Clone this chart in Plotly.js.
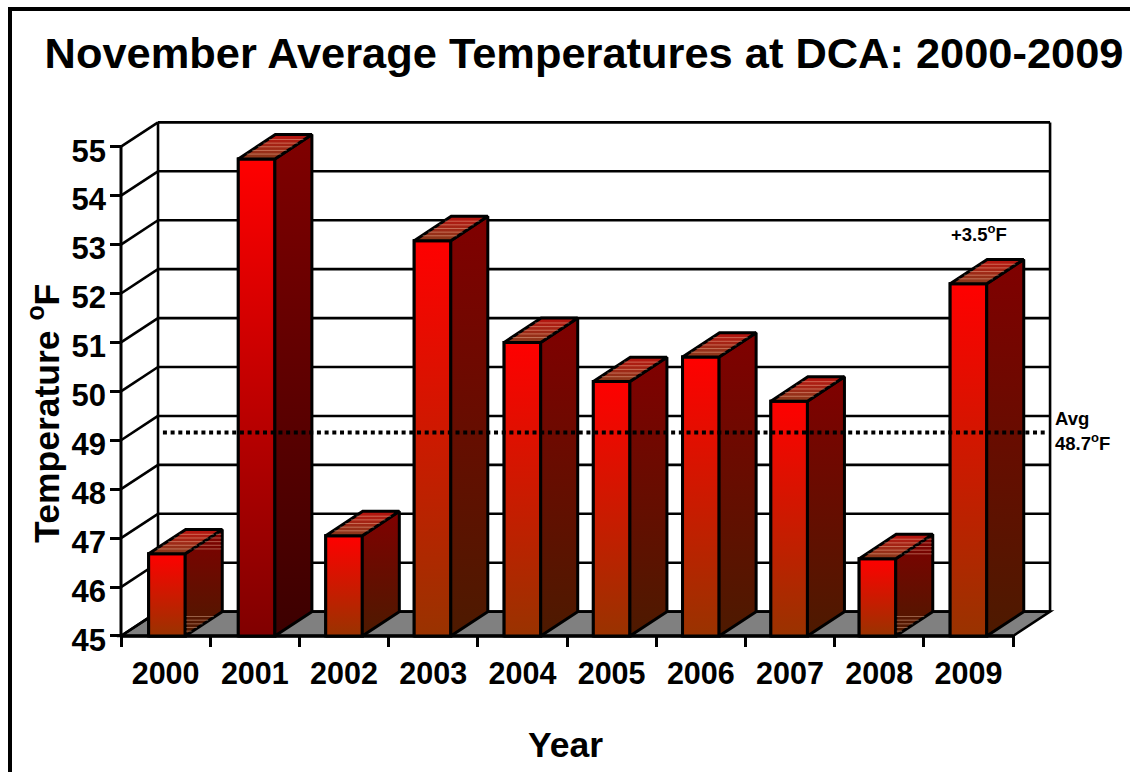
<!DOCTYPE html>
<html><head><meta charset="utf-8">
<script src="https://cdn.plot.ly/plotly-3.0.1.min.js"></script>
<style>html,body{margin:0;padding:0;background:#fff}
#chart{position:absolute;left:0;top:0;width:1130px;height:772px}
#frame{position:absolute;left:8px;top:7px;width:1122px;height:765px;border-left:4.5px solid #000;border-top:4.5px solid #000;box-sizing:border-box;pointer-events:none}
</style></head><body>
<div id="chart"></div><div id="frame"></div>
<script>
const years = ['2000','2001','2002','2003','2004','2005','2006','2007','2008','2009'];
const temps = [46.68,54.75,47.05,53.08,51.0,50.2,50.7,49.8,46.58,52.2];
const barNudge = [0.015,0.02,0,-0.008,0,0,0,-0.01,-0.02,0];
const yTicks = [45,46,47,48,49,50,51,52,53,54,55];
const average = 48.7;
const baseTemp = 45, topTemp = 55;
const depthX = 0.415, depthY = 0.497, barW = 0.41, avgLift = 0.46;
const frontTop = '#ff0000', frontBottom = '#993300', sideTop = '#800000', sideBottom = '#4d1a00';
const darkFrontBottom = '#800000', darkSideBottom = '#3c0000';
const stripeFractions = [0.2,0.35,0.5,0.65,0.8];
const stripedSides = ['2000','2008'];
const xs = years.map((_, i) => i);
const barX = xs.map((x,i) => x + barNudge[i]);
const L = -0.5, R = years.length - 0.5;
const FONT = 'Liberation Sans, Arial, sans-serif';
const line = {color:'#000', width:2.6};

const shapes = [];
const seg = (x0,y0,x1,y1,l) => shapes.push({type:'line',layer:'below',xref:'x',yref:'y',x0,y0,x1,y1,line:l||line});
shapes.push({type:'path',layer:'below',xref:'x',yref:'y',
  path:`M${L},${baseTemp} L${R},${baseTemp} L${R+depthX},${baseTemp+depthY} L${L+depthX},${baseTemp+depthY} Z`,
  fillcolor:'#808080',line:line});
yTicks.forEach(v=>{
  seg(L,v,L+depthX,v+depthY);
  seg(L+depthX,v+depthY,R+depthX,v+depthY);
});
seg(L,baseTemp,L,topTemp,{color:'#000',width:3});
seg(L+depthX,baseTemp+depthY,L+depthX,topTemp+depthY);
seg(R+depthX,baseTemp+depthY,R+depthX,topTemp+depthY);
seg(L,baseTemp,R,baseTemp,{color:'#000',width:3.4});

const traces = [{type:'bar',x:barX,y:temps.map(v=>v-baseTemp),base:baseTemp,width:barW,
  marker:{color:frontTop,line:{color:'#000',width:3}},showlegend:false,hoverinfo:'skip'}];
const face = (x,y,bottom,top,w) => traces.push({type:'scatter',mode:'lines',x,y,fill:'toself',
  line:{color:'#000',width:w||3,join:'miter'},showlegend:false,hoverinfo:'skip',
  fillgradient:{type:'vertical',colorscale:[[0,bottom],[1,top]]}});
const sx=[],sy=[];
const stripe=(x0,x1,u)=>{sx.push(x0+0.012,x1-0.012,null);sy.push(u,u,null);};
temps.forEach((v,i)=>{
  const a=barX[i]-barW/2,b=barX[i]+barW/2,dark=years[i]==='2001';
  face([a,b,b,a,a],[baseTemp,baseTemp,v,v,baseTemp],dark?darkFrontBottom:frontBottom,frontTop);
  face([b,b+depthX,b+depthX,b,b],[baseTemp,baseTemp+depthY,v+depthY,v,baseTemp],dark?darkSideBottom:sideBottom,sideTop);
  face([a,b,b+depthX,a+depthX,a],[v,v,v+depthY,v+depthY,v],'#8a3a1c','#b8130f');
  stripeFractions.forEach(f=>{
    const u=v+f*depthY, s=f*depthX;
    stripe(a+s,b+s,u);
    if(stripedSides.includes(years[i])){
      stripe(b+s,b+depthX,u);
      stripe(b,b+s,baseTemp+f*depthY);
    }
  });
});
traces.push({type:'scatter',mode:'lines',x:sx,y:sy,connectgaps:false,
  line:{color:'rgba(255,205,175,0.42)',width:1},showlegend:false,hoverinfo:'skip'});
traces.push({type:'scatter',mode:'lines',x:[-0.03,9.88],y:[average+avgLift,average+avgLift],
  line:{color:'#000',width:4,dash:'4px,3.7px'},showlegend:false,hoverinfo:'skip'});

const O = '<sup><span style="font-size:13px">o</span></sup>';
const small = (text,x,y)=>({text:'<b>'+text+'</b>',x,y,xref:'x',yref:'y',showarrow:false,xanchor:'left',yanchor:'middle',
  font:{family:FONT,size:18.5,color:'#000'}});
const big = (text,x,y,a)=>({text:'<b>'+text+'</b>',x,y,xref:'paper',yref:'paper',showarrow:false,xanchor:'center',yanchor:'middle',textangle:a||0,
  font:{family:FONT,size:35.5,color:'#000'}});
const layout = {
  width:1130,height:772,margin:{l:110,r:72,t:115,b:125,pad:0},
  paper_bgcolor:'#fff',plot_bgcolor:'#fff',showlegend:false,
  title:{text:'<b>November Average Temperatures at DCA: 2000-2009</b>',font:{family:FONT,size:43.4,color:'#000'},
    xref:'paper',yref:'container',x:0.5,xanchor:'center',y:0.932,yanchor:'middle'},
  xaxis:{range:[-0.6233,10.004],showgrid:false,zeroline:false,showline:false,
    tickmode:'array',tickvals:xs,ticktext:years,ticks:'',ticklabelstandoff:5,
    tickfont:{family:FONT,size:30.5,color:'#000',weight:700},
    minor:{tickmode:'array',tickvals:[-0.5,0.5,1.5,2.5,3.5,4.5,5.5,6.5,7.5,8.5,9.5],ticks:'inside',ticklen:11,tickwidth:3,tickcolor:'#000',showgrid:false}},
  yaxis:{range:[44.775,55.648],showgrid:false,zeroline:false,showline:false,
    tickmode:'array',tickvals:yTicks,ticks:'inside',ticklen:11,tickwidth:3,tickcolor:'#000',
    ticklabelshift:4,ticklabelstandoff:3,
    tickfont:{family:FONT,size:31,color:'#000',weight:700}},
  shapes,
  annotations:[
    small('+3.5'+O+'F',8.78,53.24),small('Avg',9.95,49.455),small('48.7'+O+'F',9.95,48.96),
    big('Year',0.481,-0.1842),
    big('Temperature <sup>o</sup>F',-0.0686,0.44,-90)
  ]
};
Plotly.newPlot('chart',traces,layout,{staticPlot:true,displayModeBar:false});
</script></body></html>
